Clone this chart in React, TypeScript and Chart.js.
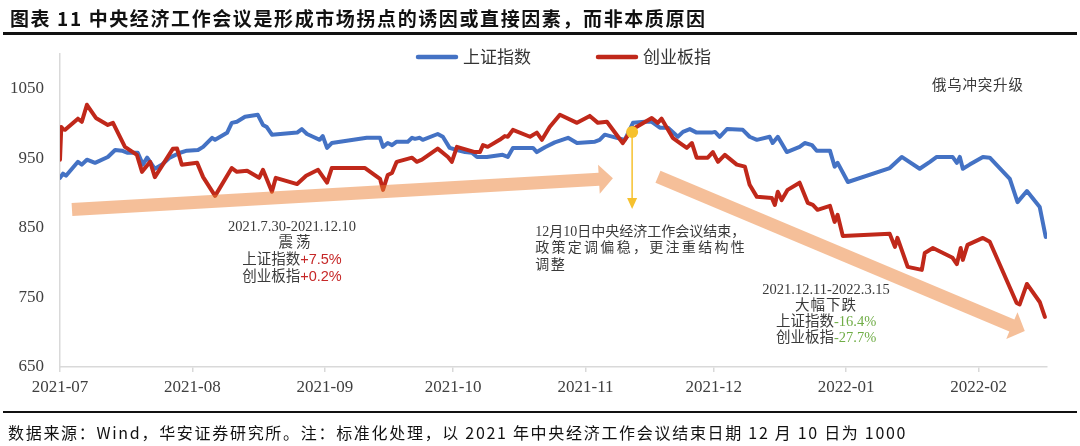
import React, { useEffect, useRef } from "react";
import { Chart, registerables } from "chart.js";

Chart.register(...registerables);

const titleText = "图表 11 中央经济工作会议是形成市场拐点的诱因或直接因素，而非本质原因";
const sourceText = "数据来源：Wind，华安证券研究所。注：标准化处理，以 2021 年中央经济工作会议结束日期 12 月 10 日为 1000";

const seriesNames = ["上证指数", "创业板指"];
const seriesColors = ["#4472C4", "#C0281A"];

// x = days counted from the 2021-07 axis tick, y = normalised index
const shDays = [0, 0.7, 1.4, 4.2, 5.1, 6.3, 8.2, 11.2, 12.9, 14.5, 15.7, 18.2, 19.4, 20.4, 22.2, 23.9, 25.7, 28.1, 29.7, 32.3, 33.5, 35.6, 36.3, 39.1, 40.2, 41.4, 43.3, 46.3, 47.5, 48.4, 49.6, 55.5, 56.6, 57.8, 59.2, 60.8, 61.5, 62.5, 63.6, 71.8, 74.9, 75.6, 76.7, 77.7, 78.8, 81.4, 82.4, 83.1, 84.2, 84.9, 88.4, 89.6, 91.2, 92.9, 94.8, 96.4, 97.6, 99.9, 103.6, 104.8, 106, 110.7, 111.6, 113.5, 115.8, 118.9, 121, 125.2, 126.3, 127.5, 130.3, 132.2, 134.1, 136.9, 138.5, 140.4, 142.3, 144.6, 145.8, 147.4, 149, 152.5, 153.3, 154.4, 156.1, 159.8, 161.4, 163.1, 166.1, 166.8, 168, 170.1, 173.1, 174.3, 176, 177.1, 180.2, 181.3, 182, 184.4, 194.2, 197, 201.2, 203.6, 205.2, 208.9, 209.9, 210.6, 211.3, 212.9, 216, 217.6, 222.3, 224.1, 226.3, 229.3, 230.7];
const shValues = [922, 928, 925, 945, 941, 948, 943.5, 952, 962, 961, 958, 958, 941, 951, 935, 941, 951, 958, 961, 962, 966.5, 979.5, 976.6, 986.7, 1001, 1002.5, 1009.7, 1012.6, 998, 995, 984, 987, 992, 985, 981, 976.6, 982, 965, 972, 979.5, 979.5, 966.5, 972, 969, 974, 974, 979.5, 978, 979.5, 976.6, 985, 981, 965, 962, 959, 958, 952, 952, 955, 952, 965, 965, 959, 966, 973, 979.5, 972, 974, 976.6, 984, 979.5, 976.6, 1001, 1002.5, 1002.5, 994, 994, 981, 988, 992, 987, 987, 988, 981, 992, 991, 981, 976.6, 981, 972, 981, 959, 966.5, 972, 969, 961, 961, 938, 943.5, 916, 936, 952, 935, 945, 952, 952, 943.5, 952, 935, 941, 952, 951, 920.5, 887, 903, 880, 837];

const cybDays = [0, 0.3, 0.7, 1.2, 4.2, 5.1, 6.3, 8.4, 11.2, 12.4, 15.2, 18, 19.2, 21.1, 22.2, 26.4, 27.4, 28.5, 32.1, 33.5, 36.3, 40.2, 41.4, 43.8, 46.6, 47.5, 49.6, 50.5, 55.5, 57.6, 60.4, 62.5, 63.6, 71.4, 74.9, 75.6, 76.7, 77.7, 78.8, 82.4, 83.5, 84.7, 88.4, 90.8, 91.7, 92.9, 97.1, 98.3, 99, 100.1, 102.9, 104.1, 104.8, 106, 110, 111.6, 112.8, 114.6, 117, 121, 124, 125.9, 128, 131.7, 133.8, 138.5, 139.9, 140.8, 143.4, 145.1, 146.7, 147.9, 149, 151.6, 152.8, 154, 155.6, 158.4, 160.3, 161.4, 163.1, 166.6, 167.3, 168, 168.9, 170.3, 173.1, 175, 176.2, 177.3, 180.2, 181.3, 182, 183.2, 194.2, 195.4, 196, 198.4, 201.7, 202.4, 204.3, 208.9, 209.9, 210.8, 211.3, 212.4, 216, 217.6, 223.9, 224.6, 226.3, 229.3, 230.5];
const cybValues = [948, 995, 992, 991, 1007, 1002.5, 1027, 1008, 998, 1001, 966.5, 955, 930.6, 945, 923, 963.7, 964, 940.7, 943.5, 923, 896, 936, 930.6, 932, 922, 933.5, 902, 922, 913, 925, 933.5, 915, 936, 936, 920.5, 904.7, 926, 929, 945, 951, 945, 948, 964, 952, 945, 966.5, 959, 959, 969, 966.5, 976.6, 982, 981, 991, 981, 987, 976.6, 995, 1012.6, 1001, 1011, 1001, 1002.5, 972, 991, 1008, 1001, 1007, 979.5, 972, 965, 972, 951, 951, 959, 945, 955, 941, 938, 912, 894.6, 893, 883, 902, 890, 904.7, 915, 886, 883, 876, 881.7, 858.6, 868.7, 838.5, 841.4, 822.7, 835.6, 794, 789.6, 814, 821, 807, 798, 821, 804, 825.5, 835.6, 830, 742, 740, 769.4, 743.5, 722];

const monthTickDays = [0, 31, 62, 92, 123, 153, 184, 215];
const monthTickLabels = ["2021-07", "2021-08", "2021-09", "2021-10", "2021-11", "2021-12", "2022-01", "2022-02"];
const valueTicks = [650, 750, 850, 950, 1050];
const dayMin = 0;
const dayMax = 231;
const valueMin = 650;
const valueMax = 1100;

// 12月10日 marker
const meetingDay = [133.9];
const meetingValue = [988];
const meetingArrowEndValue = 877;

// trend arrows (start -> tip)
const trendFromDays = [2.8, 139.95];
const trendFromValues = [876.3, 923.4];
const trendToDays = [129.4, 225.8];
const trendToValues = [921.2, 701.8];

// annotation texts
const noteAnchorDays = [54.3, 111.2, 179.3, 214.8];
const noteAnchorValues = [851.4, 844.3, 760.8, 1055.8];
const noteRangeA = "2021.7.30-2021.12.10";
const noteLabelA = "震荡";
const noteChangeA = ["+7.5%", "+0.2%"];
const noteMeetingLines = ["12月10日中央经济工作会议结束，", "政策定调偏稳，更注重结构性", "调整"];
const noteRangeC = "2021.12.11-2022.3.15";
const noteLabelC = "大幅下跌";
const noteChangeC = ["-16.4%", "-27.7%"];
const noteEvent = "俄乌冲突升级";

const TEXT_GRAY = "#3a3a3a";
const UP_RED = "#C62828";
const DOWN_GREEN = "#70AD47";
const SERIF = "'Liberation Serif', 'Noto Sans CJK SC', serif";
const SANS_CJK = "'Noto Sans CJK SC', sans-serif";

type Seg = { t: string; c: string; f: string };

function drawSegs(ctx: CanvasRenderingContext2D, segs: Seg[], x: number, y: number, align: "center" | "left", spacing = 0) {
  (ctx as any).letterSpacing = spacing + "px";
  let total = 0;
  const ws = segs.map((s) => {
    ctx.font = s.f;
    const w = ctx.measureText(s.t).width;
    total += w;
    return w;
  });
  let cx = align === "center" ? x - total / 2 : x;
  ctx.textBaseline = "middle";
  ctx.textAlign = "left";
  segs.forEach((s, i) => {
    ctx.font = s.f;
    ctx.fillStyle = s.c;
    ctx.fillText(s.t, cx, y);
    cx += ws[i];
  });
  (ctx as any).letterSpacing = "0px";
}

function drawBlockArrow(ctx: CanvasRenderingContext2D, x1: number, y1: number, x2: number, y2: number, shaftW: number, headW: number, headL: number) {
  const dx = x2 - x1;
  const dy = y2 - y1;
  const len = Math.hypot(dx, dy);
  const ux = dx / len;
  const uy = dy / len;
  const px = -uy;
  const py = ux;
  const bx = x2 - ux * headL;
  const by = y2 - uy * headL;
  ctx.beginPath();
  ctx.moveTo(x1 + (px * shaftW) / 2, y1 + (py * shaftW) / 2);
  ctx.lineTo(bx + (px * shaftW) / 2, by + (py * shaftW) / 2);
  ctx.lineTo(bx + (px * headW) / 2, by + (py * headW) / 2);
  ctx.lineTo(x2, y2);
  ctx.lineTo(bx - (px * headW) / 2, by - (py * headW) / 2);
  ctx.lineTo(bx - (px * shaftW) / 2, by - (py * shaftW) / 2);
  ctx.lineTo(x1 - (px * shaftW) / 2, y1 - (py * shaftW) / 2);
  ctx.closePath();
  ctx.fill();
}

const annotationPlugin = {
  id: "annotationPlugin",
  afterDatasetsDraw(chart: any) {
    const { ctx, scales } = chart;
    const xs = scales.x;
    const ys = scales.y;
    ctx.save();
    // trend arrows
    ctx.fillStyle = "rgba(235,128,52,0.5)";
    for (let i = 0; i < trendFromDays.length; i++) {
      drawBlockArrow(
        ctx,
        xs.getPixelForValue(trendFromDays[i]),
        ys.getPixelForValue(trendFromValues[i]),
        xs.getPixelForValue(trendToDays[i]),
        ys.getPixelForValue(trendToValues[i]),
        13,
        29,
        14
      );
    }
    // yellow marker arrow
    const mx = xs.getPixelForValue(meetingDay[0]);
    const my = ys.getPixelForValue(meetingValue[0]);
    const ey = ys.getPixelForValue(meetingArrowEndValue);
    ctx.strokeStyle = "#F6C12E";
    ctx.fillStyle = "#F6C12E";
    ctx.lineWidth = 1.5;
    ctx.beginPath();
    ctx.moveTo(mx, my);
    ctx.lineTo(mx, ey - 9);
    ctx.stroke();
    ctx.beginPath();
    ctx.moveTo(mx - 5, ey - 11);
    ctx.lineTo(mx + 5, ey - 11);
    ctx.lineTo(mx, ey);
    ctx.closePath();
    ctx.fill();
    ctx.beginPath();
    ctx.arc(mx, my, 6, 0, Math.PI * 2);
    ctx.fill();
    ctx.restore();
  },
  afterDraw(chart: any) {
    const { ctx, scales, chartArea } = chart;
    const xs = scales.x;
    const ys = scales.y;
    ctx.save();
    const fSerif = "14.5px " + SERIF;
    const fRed = "14.5px 'Liberation Sans', sans-serif";
    const lh = 16.6;

    // block A
    let ax = xs.getPixelForValue(noteAnchorDays[0]);
    let ay = ys.getPixelForValue(noteAnchorValues[0]);
    drawSegs(ctx, [{ t: noteRangeA, c: TEXT_GRAY, f: fSerif }], ax, ay, "center");
    drawSegs(ctx, [{ t: noteLabelA, c: TEXT_GRAY, f: fSerif }], ax + 4, ay + lh, "center", 3);
    seriesNames.forEach((n, i) => {
      drawSegs(ctx, [{ t: n, c: TEXT_GRAY, f: fSerif }, { t: noteChangeA[i], c: UP_RED, f: fRed }], ax, ay + lh * (i + 2), "center");
    });

    // block B
    ax = xs.getPixelForValue(noteAnchorDays[1]);
    ay = ys.getPixelForValue(noteAnchorValues[1]);
    const bSpacing = [0, 2.3, 1.5];
    noteMeetingLines.forEach((line, i) => {
      drawSegs(ctx, [{ t: line, c: TEXT_GRAY, f: "14px " + SERIF }], ax, ay + 16.5 * i, "left", bSpacing[i]);
    });

    // block C
    ax = xs.getPixelForValue(noteAnchorDays[2]);
    ay = ys.getPixelForValue(noteAnchorValues[2]);
    const lhc = 16.1;
    drawSegs(ctx, [{ t: noteRangeC, c: TEXT_GRAY, f: fSerif }], ax, ay, "center");
    drawSegs(ctx, [{ t: noteLabelC, c: TEXT_GRAY, f: fSerif }], ax, ay + lhc, "center", 1);
    seriesNames.forEach((n, i) => {
      drawSegs(ctx, [{ t: n, c: TEXT_GRAY, f: fSerif }, { t: noteChangeC[i], c: DOWN_GREEN, f: fSerif }], ax, ay + lhc * (i + 2), "center");
    });

    // block D
    ax = xs.getPixelForValue(noteAnchorDays[3]);
    ay = ys.getPixelForValue(noteAnchorValues[3]);
    drawSegs(ctx, [{ t: noteEvent, c: TEXT_GRAY, f: "14.5px " + SANS_CJK }], ax, ay, "center", 0.8);

    // legend
    const legendFont = "17px " + SANS_CJK;
    ctx.font = legendFont;
    const lineLen = 42;
    const gap = 5;
    const itemGap = 65;
    const widths = seriesNames.map((n) => ctx.measureText(n).width);
    const total = widths.reduce((s, w) => s + lineLen + gap + w, 0) + itemGap * (seriesNames.length - 1);
    let lx = (chartArea.left + chartArea.right) / 2 + 10 - total / 2;
    const ly = chartArea.top + 3;
    seriesNames.forEach((n, i) => {
      ctx.strokeStyle = seriesColors[i];
      ctx.lineWidth = 4.5;
      ctx.lineCap = "round";
      ctx.beginPath();
      ctx.moveTo(lx + 2, ly);
      ctx.lineTo(lx + lineLen - 2, ly);
      ctx.stroke();
      lx += lineLen + gap;
      ctx.font = legendFont;
      ctx.fillStyle = "#333";
      ctx.textBaseline = "middle";
      ctx.textAlign = "left";
      ctx.fillText(n, lx, ly);
      lx += widths[i] + itemGap;
    });
    ctx.restore();
  },
};

export default function App() {
  const canvasRef = useRef<HTMLCanvasElement>(null);

  useEffect(() => {
    const canvas = canvasRef.current;
    if (!canvas) return;
    const toPoints = (xs: number[], ys: number[]) => xs.map((x, i) => ({ x, y: ys[i] }));
    const chart = new Chart(canvas, {
      type: "line",
      data: {
        datasets: [
          {
            label: seriesNames[0],
            data: toPoints(shDays, shValues),
            borderColor: seriesColors[0],
            backgroundColor: seriesColors[0],
            borderWidth: 4,
            pointRadius: 0,
            tension: 0,
            borderJoinStyle: "round",
            borderCapStyle: "round",
            order: 2,
          },
          {
            label: seriesNames[1],
            data: toPoints(cybDays, cybValues),
            borderColor: seriesColors[1],
            backgroundColor: seriesColors[1],
            borderWidth: 4,
            pointRadius: 0,
            tension: 0,
            borderJoinStyle: "round",
            borderCapStyle: "round",
            order: 1,
          },
        ],
      },
      options: {
        responsive: false,
        animation: false,
        devicePixelRatio: 1,
        layout: { padding: { top: 54, right: 33, bottom: 44, left: 0 } },
        plugins: {
          legend: { display: false },
          tooltip: { enabled: false },
          title: { display: false },
        },
        scales: {
          x: {
            type: "linear",
            min: dayMin,
            max: dayMax,
            afterBuildTicks: (scale: any) => {
              scale.ticks = monthTickDays.map((v) => ({ value: v }));
            },
            afterFit: (scale: any) => {
              scale.height = 35;
            },
            ticks: {
              autoSkip: false,
              maxRotation: 0,
              padding: 5,
              color: "#404040",
              font: { family: "'Liberation Serif', serif", size: 17 },
              callback: (value: any) => {
                const idx = monthTickDays.indexOf(Number(value));
                return idx >= 0 ? monthTickLabels[idx] : "";
              },
            },
            grid: { display: true, drawOnChartArea: false, drawTicks: true, tickLength: 5, color: "#d9d9d9", lineWidth: 1.5 },
            border: { display: true, color: "#d9d9d9", width: 1.5 },
          },
          y: {
            type: "linear",
            min: valueMin,
            max: valueMax,
            afterBuildTicks: (scale: any) => {
              scale.ticks = valueTicks.map((v) => ({ value: v }));
            },
            afterFit: (scale: any) => {
              scale.width = 60;
            },
            ticks: {
              padding: 16,
              color: "#404040",
              font: { family: "'Liberation Serif', serif", size: 17 },
              callback: (value: any) => String(value),
            },
            grid: { display: false, drawTicks: false },
            border: { display: true, color: "#d9d9d9", width: 1.5 },
          },
        },
      },
      plugins: [annotationPlugin],
    } as any);
    return () => chart.destroy();
  }, []);

  return (
    <div style={{ position: "absolute", left: 0, top: 0, width: 1080, height: 446, background: "#fff", overflow: "hidden" }}>
      <canvas ref={canvasRef} width={1080} height={446} style={{ position: "absolute", left: 0, top: 0, width: 1080, height: 446 }} />
      <div
        style={{
          position: "absolute",
          left: 10,
          top: 8,
          fontFamily: SANS_CJK,
          fontWeight: 700,
          fontSize: 19,
          lineHeight: "20px",
          letterSpacing: "1.6px",
          color: "#111",
          whiteSpace: "nowrap",
        }}
      >
        {titleText}
      </div>
      <div style={{ position: "absolute", left: 3, top: 31.5, width: 1074, height: 3, background: "#111" }} />
      <div style={{ position: "absolute", left: 3, top: 411, width: 1074, height: 2, background: "#111" }} />
      <div
        style={{
          position: "absolute",
          left: 8,
          top: 424,
          fontFamily: SANS_CJK,
          fontSize: 16,
          lineHeight: "16px",
          letterSpacing: "1.7px",
          color: "#111",
          whiteSpace: "nowrap",
        }}
      >
        {sourceText}
      </div>
    </div>
  );
}
